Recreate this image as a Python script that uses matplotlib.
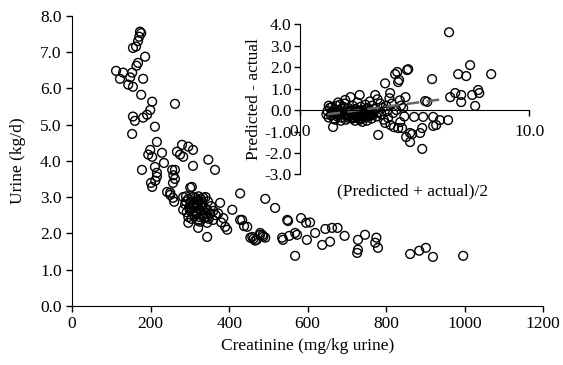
#!/usr/bin/env python3
# -*- coding: utf-8 -*-
"""
Urine output vs creatinine, with inset Bland-Altman style plot.
"""

import matplotlib
matplotlib.use('Agg')
import matplotlib.pyplot as plt
from matplotlib.ticker import FormatStrFormatter

# Main scatter: creatinine (mg/kg urine) and urine (kg/d)
creatinine = [
    173, 176, 171, 168, 163, 155, 186, 168, 164, 112, 130, 153, 122, 143, 155, 148,
    181, 176, 204, 199, 191, 181, 155, 160, 262, 211, 153, 216, 199, 194, 229, 204,
    280, 296, 308, 267, 275, 283, 347, 364, 308, 178, 211, 234, 216, 262, 255, 258,
    262, 201, 204, 212, 216, 242, 250, 260, 257, 250, 257, 428,
    283, 290, 296, 301, 305, 308, 314, 318, 322, 328, 334, 340, 346, 288, 298, 306,
    312, 320, 330, 338, 283, 292, 300, 308, 316, 326, 334, 344, 352, 296, 304, 312,
    320, 326, 336, 348, 359, 366, 377, 385, 390, 380, 395, 296, 321, 344, 344, 408,
    372, 360, 354, 302, 318, 332, 310, 325, 340, 290, 314, 330, 345, 300, 322,
    433, 438, 446, 454, 459, 462, 470, 479, 479, 487, 492, 485, 492, 517, 428, 466,
    535, 537, 548, 550, 553, 568, 573, 568, 583, 596, 598, 606, 619, 637, 645, 657,
    662, 676, 694, 728, 728, 726, 746, 775, 772, 779, 861, 884, 901, 919, 996,
]
urine = [
    7.56, 7.52, 7.42, 7.30, 7.15, 7.11, 6.87, 6.70, 6.62, 6.48, 6.43, 6.43, 6.26, 6.10, 6.04, 6.30,
    6.26, 5.82, 5.63, 5.40, 5.27, 5.19, 5.22, 5.10, 5.57, 4.94, 4.74, 4.52, 4.30, 4.17, 4.22, 4.11,
    4.44, 4.39, 4.30, 4.25, 4.17, 4.11, 4.03, 3.75, 3.86, 3.75, 3.83, 3.94, 3.67, 3.75, 3.75, 3.60,
    3.50, 3.39, 3.28, 3.45, 3.56, 3.14, 3.06, 2.87, 3.39, 3.12, 2.98, 3.10,
    3.00, 3.02, 2.95, 3.26, 3.28, 3.00, 2.98, 2.92, 3.02, 2.95, 2.98, 3.00, 2.88, 2.80, 2.72, 2.78,
    2.70, 2.75, 2.80, 2.70, 2.65, 2.58, 2.62, 2.59, 2.55, 2.62, 2.50, 2.65, 2.55, 2.45, 2.40, 2.48,
    2.35, 2.32, 2.42, 2.40, 2.37, 2.50, 2.84, 2.42, 2.18, 2.30, 2.10, 2.29, 2.15, 2.29, 1.90, 2.65,
    2.55, 2.62, 2.75, 2.85, 2.82, 2.86, 2.52, 2.45, 2.55, 2.88, 2.62, 2.72, 2.45, 2.68, 2.90,
    2.37, 2.20, 2.18, 1.88, 1.90, 1.85, 1.82, 2.01, 1.96, 1.91, 1.88, 1.95, 2.95, 2.70, 2.37, 1.80,
    1.88, 1.82, 2.37, 2.34, 1.93, 2.01, 1.96, 1.38, 2.42, 2.29, 1.82, 2.30, 2.01, 1.68, 2.12, 1.77,
    2.15, 2.15, 1.93, 1.82, 1.55, 1.46, 1.96, 1.88, 1.74, 1.60, 1.43, 1.52, 1.60, 1.35, 1.38,
]

# Inset: (predicted + actual)/2 and predicted - actual
mean_pa = [
    1.15, 1.20, 1.25, 1.30, 1.35, 1.40, 1.42, 1.48, 1.50, 1.55, 1.60, 1.62, 1.68, 1.70, 1.75, 1.80,
    1.85, 1.90, 1.95, 1.44, 1.97, 1.25, 1.38, 1.52, 1.66, 1.78, 1.88,
    2.00, 2.05, 2.10, 2.15, 2.20, 2.22, 2.28, 2.30, 2.35, 2.40, 2.42, 2.48, 2.50, 2.55, 2.60, 2.62,
    2.65, 2.70, 2.72, 2.78, 2.80, 2.85, 2.88, 2.92, 2.95, 3.00, 3.05, 3.08, 3.12, 3.15, 3.20, 3.28,
    3.30, 3.35, 3.38, 3.40, 2.12, 2.32, 2.52, 2.68, 2.82, 2.98, 2.25, 2.45, 2.58, 2.75, 2.90,
    2.18, 2.38, 2.56, 2.73, 2.86, 3.02, 2.30, 2.50, 2.66, 2.84, 3.10, 1.58, 1.72, 1.92, 2.08,
    2.40, 2.62, 2.94, 3.18, 2.44, 2.70,
    3.41, 3.50, 3.55, 3.60, 3.65, 3.71, 3.71, 3.75, 3.80, 3.84, 3.90, 3.93, 3.95, 4.00, 4.06, 4.10,
    4.15, 4.20, 4.24, 4.28, 4.28, 4.32, 4.35, 4.37, 4.40, 4.45, 4.50, 4.55, 4.63, 4.67, 4.72, 4.80,
    4.80, 4.89, 4.98, 4.60,
    5.24, 5.33, 5.33, 5.37, 5.46, 5.55, 5.76, 5.81, 5.81, 5.94, 6.10, 6.46, 6.50, 6.55, 6.77, 6.90,
    7.03, 7.03, 7.25, 7.42, 7.51, 7.64, 7.77, 7.82, 8.34,
]
diff_pa = [
    -0.20, -0.05, -0.35, 0.10, -0.25, 0.15, -0.10, -0.40, 0.05, -0.20, 0.20, -0.30, 0.00, -0.15, 0.25, -0.35,
    0.05, -0.10, 0.30, -0.79, 0.47, 0.20, -0.15, -0.45, 0.35, -0.50, 0.15,
    -0.45, -0.20, 0.10, -0.30, 0.60, -0.05, -0.40, 0.20, -0.15, -0.50, 0.05, -0.30, 0.35, -0.10, 0.70, -0.45,
    0.15, -0.25, -0.55, 0.00, -0.35, 0.25, -0.15, -0.50, 0.10, -0.30, 0.40, -0.05, -0.40, 0.20, -0.20, 0.70,
    0.05, -0.30, 0.50, -0.10, -0.25, -0.35, -0.20, -0.10, -0.30, -0.25, 0.00, -0.15, -0.40, -0.10, 0.05,
    -0.10, -0.25, -0.40, -0.20, -0.05, -0.15, -0.35, -0.25, -0.30, -0.20, -0.25, -0.10, -0.25, -0.20, -0.35,
    -0.15, -0.05, -0.25, -0.10, -0.30, -0.40,
    -1.16, 0.30, -0.20, 0.10, -0.45, 1.24, -0.60, 0.20, -0.05, -0.37, 0.55, 0.79, -0.70, 0.30, -0.14, -0.80,
    1.67, 0.00, 1.77, 1.30, -0.84, 1.40, 0.45, -0.56, 0.20, -0.84, 0.10, -0.30, -1.26, 1.86, 1.90, -1.07,
    -1.49, -1.12, -0.32, 0.60,
    -1.07, -0.84, -1.81, -0.32, 0.42, 0.38, 1.44, -0.32, -0.74, -0.70, -0.47, -0.47, 3.62, 0.60, 0.79, 1.67,
    0.70, 0.37, 1.58, 2.09, 0.70, 0.19, 0.93, 0.79, 1.67,
]

# Trend line of the inset (end points)
trend_x = [1.2, 6.2]
trend_y = [-0.2, 0.5]


def main():
    plt.rcParams['font.family'] = 'Liberation Serif'
    plt.rcParams['font.size'] = 12.5

    fig = plt.figure(figsize=(5.63, 3.65), dpi=100)

    # main plot
    ax = fig.add_axes([0.128, 0.162, 0.837, 0.795])
    ax.scatter(creatinine, urine, s=40, facecolors='none', edgecolors='black', linewidths=1.0)
    ax.set_xlim(0, 1200)
    ax.set_ylim(0, 8)
    ax.set_xticks(range(0, 1201, 200))
    ax.set_yticks(range(0, 9))
    ax.yaxis.set_major_formatter(FormatStrFormatter('%.1f'))
    ax.spines['top'].set_visible(False)
    ax.spines['right'].set_visible(False)
    ax.tick_params(direction='out', length=4, width=1)
    ax.set_xlabel('Creatinine (mg/kg urine)', labelpad=4)
    ax.set_ylabel('Urine (kg/d)', labelpad=10)

    # inset
    ax_in = fig.add_axes([0.533, 0.522, 0.407, 0.412])
    ax_in.patch.set_alpha(0)
    ax_in.scatter(mean_pa, diff_pa, s=40, facecolors='none', edgecolors='black', linewidths=1.0)
    ax_in.plot(trend_x, trend_y, color='#666666', lw=1.8, ls=(0, (5, 3)))
    ax_in.set_xlim(0, 10)
    ax_in.set_ylim(-3, 4)
    ax_in.set_xticks([0, 10])
    ax_in.set_yticks(range(-3, 5))
    ax_in.xaxis.set_major_formatter(FormatStrFormatter('%.1f'))
    ax_in.yaxis.set_major_formatter(FormatStrFormatter('%.1f'))
    ax_in.spines['top'].set_visible(False)
    ax_in.spines['right'].set_visible(False)
    ax_in.spines['bottom'].set_position(('data', 0))
    ax_in.tick_params(direction='out', length=4, width=1, pad=2)
    ax_in.tick_params(axis='x', pad=6)
    ax_in.set_ylabel('Predicted - actual', labelpad=2)
    ax_in.set_xlabel('(Predicted + actual)/2')
    ax_in.xaxis.set_label_coords(0.49, -0.06)

    fig.savefig('out.png', dpi=100)


if __name__ == '__main__':
    main()
